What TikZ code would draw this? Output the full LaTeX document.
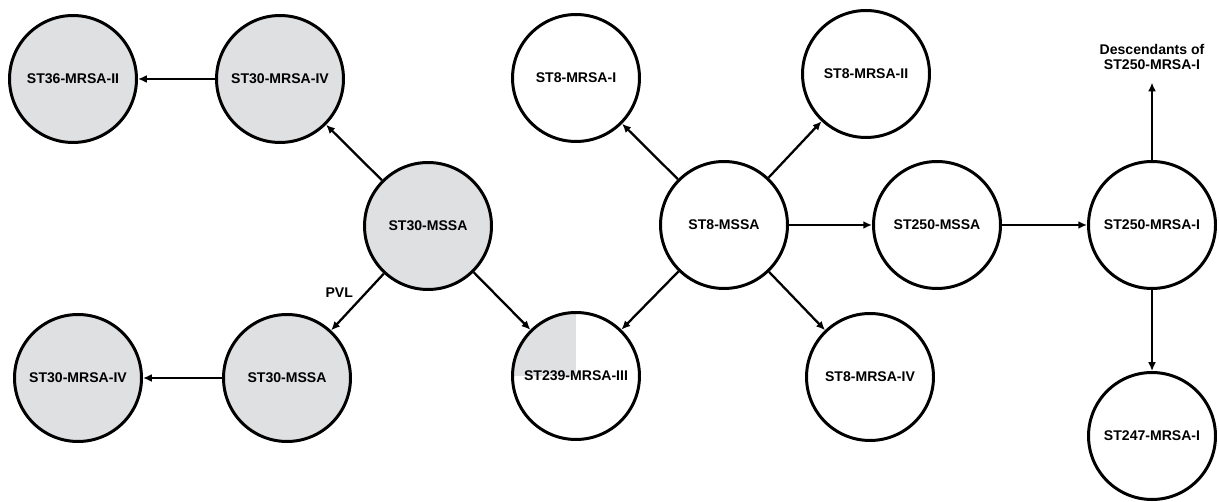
\documentclass[tikz,border=0pt]{standalone}
\usepackage{fontspec}
\setmainfont{Liberation Sans}
\usetikzlibrary{arrows.meta}
\definecolor{clonegray}{RGB}{223,224,226}

\begin{document}
\begin{tikzpicture}[x=0.02cm,y=-0.02cm,
  lbl/.style={font=\bfseries\fontsize{8}{8.8}\selectfont},
  clone/.style={lbl,circle,draw,line width=1.7pt,minimum size=2.54cm,inner sep=0pt},
  greyclone/.style={clone,fill=clonegray},
  arr/.style={-{Latex[length=5pt,width=4.5pt]},line width=1.3pt}]
  \useasboundingbox (0,0) rectangle (1219,502);
  % ST30 lineage (grey)
  \node[greyclone] (st36ii) at (73,79) {ST36-MRSA-II};
  \node[greyclone] (st30iv) at (280,79) {ST30-MRSA-IV};
  \node[greyclone] (st30) at (428,226) {ST30-MSSA};
  \node[greyclone] (st30b) at (287,378) {ST30-MSSA};
  \node[greyclone] (st30ivb) at (78,378) {ST30-MRSA-IV};
  % Hybrid clone, one quarter grey
  \node[clone, path picture={\fill[clonegray] (path picture bounding box.center)
    rectangle (path picture bounding box.north west);}] (st239) at (576,376) {ST239-MRSA-III};
  % ST8 lineage (white)
  \node[clone] (st8i) at (576,78) {ST8-MRSA-I};
  \node[clone] (st8) at (724,225) {ST8-MSSA};
  \node[clone] (st8ii) at (866,74) {ST8-MRSA-II};
  \node[clone] (st250) at (937,225) {ST250-MSSA};
  \node[clone] (st8iv) at (870,377) {ST8-MRSA-IV};
  \node[clone] (st250i) at (1152,225) {ST250-MRSA-I};
  \node[clone] (st247) at (1152,436) {ST247-MRSA-I};
  \node[lbl, align=center, inner sep=1pt] (desc) at (1152,57) {Descendants of\\ST250-MRSA-I};
  % Arrows
  \draw[arr] (st30iv) -- (st36ii);
  \draw[arr] (st30) -- (st30iv);
  \draw[arr] (st30) -- node[lbl, above left, inner sep=2pt] {PVL} (st30b);
  \draw[arr] (st30b) -- (st30ivb);
  \draw[arr] (st30) -- (st239);
  \draw[arr] (st8) -- (st239);
  \draw[arr] (st8) -- (st8i);
  \draw[arr] (st8) -- (st8ii);
  \draw[arr] (st8) -- (st8iv);
  \draw[arr] (st8) -- (st250);
  \draw[arr] (st250) -- (st250i);
  \draw[arr, shorten >=6pt] (st250i) -- (desc);
  \draw[arr] (st250i) -- (st247);
\end{tikzpicture}
\end{document}
